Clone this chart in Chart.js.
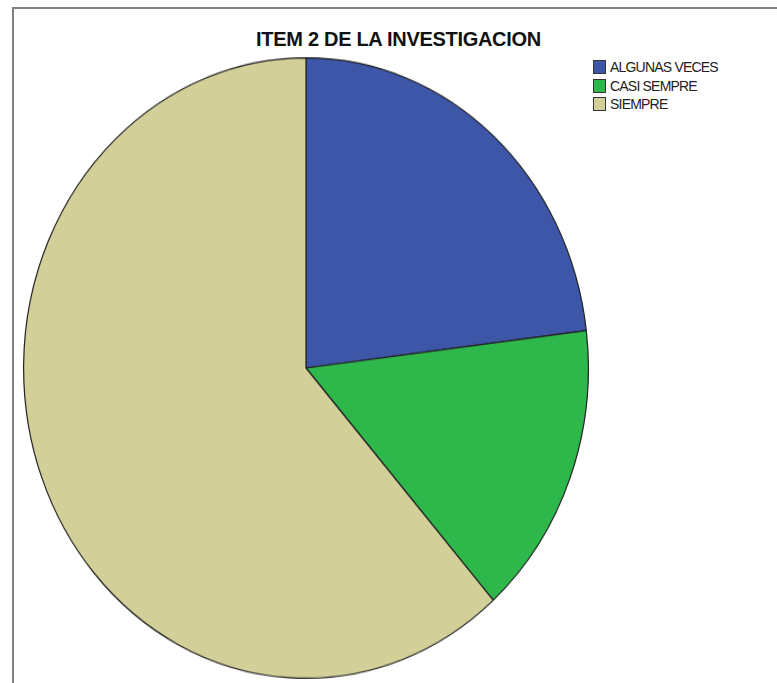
<!DOCTYPE html>
<html>
<head>
<meta charset="utf-8">
<script src="https://cdn.jsdelivr.net/npm/chart.js@4"></script>
<style>
  html, body { margin: 0; padding: 0; background: #fff; }
  body { width: 777px; height: 683px; position: relative; overflow: hidden; font-family: "Liberation Sans", Arial, sans-serif; }
  .frame { position: absolute; left: 12px; top: 7px; right: -4px; bottom: -4px; border: 2px solid #808080; }
  h1 { position: absolute; left: 0; width: 797px; top: 28px; margin: 0; text-align: center; font-size: 20px; font-weight: bold; color: #111; letter-spacing: -0.3px; }
  .pie { position: absolute; left: 22px; top: 56px; }
  /* the pie is drawn round and shown a little taller than wide */
  #pieChart { width: 568px !important; height: 624px !important; }
  #legend { position: absolute; left: 593px; top: 58px; margin: 0; padding: 0; list-style: none; }
  #legend li { height: 18.4px; display: flex; align-items: center; font-size: 14px; letter-spacing: -0.8px; color: #222; white-space: nowrap; }
  #legend span { display: inline-block; width: 11px; height: 12px; border: 1px solid #333; margin-right: 4px; }
</style>
</head>
<body>
<div class="frame"></div>
<h1>ITEM 2 DE LA INVESTIGACION</h1>
<div class="pie"><canvas id="pieChart" width="568" height="568"></canvas></div>
<ul id="legend"></ul>
<script>
// Respuestas al ítem 2
const categorias = ['ALGUNAS VECES', 'CASI SEMPRE', 'SIEMPRE'];
const frecuencias = [6, 4, 16];
const colores = ['#3d56a8', '#2eb84c', '#d3cf99'];

const ctxPie = document.getElementById('pieChart').getContext('2d');
const pieChart = new Chart(ctxPie, {
    type: 'pie',
    data: {
        labels: categorias,
        datasets: [{
            data: frecuencias,
            backgroundColor: colores,
            borderColor: '#222',
            borderWidth: 1.2
        }]
    },
    options: {
        responsive: false,
        animation: false,
        layout: { padding: 1 },
        plugins: {
            legend: { display: false },
            tooltip: { enabled: false }
        }
    }
});

// Legend built from the chart's own labels
const legend = document.getElementById('legend');
pieChart.options.plugins.legend.labels.generateLabels(pieChart).forEach(item => {
    const li = document.createElement('li');
    const box = document.createElement('span');
    box.style.background = item.fillStyle;
    li.appendChild(box);
    li.appendChild(document.createTextNode(item.text));
    legend.appendChild(li);
});
</script>
</body>
</html>
